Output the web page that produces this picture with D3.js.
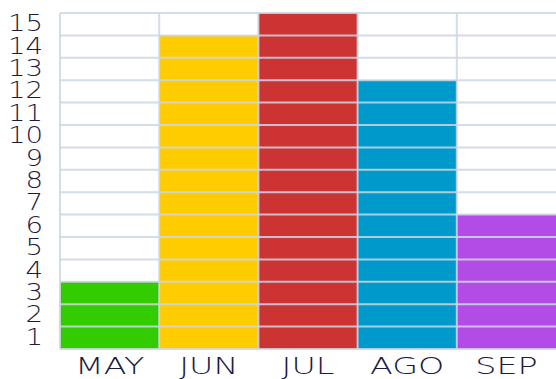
<!DOCTYPE html>
<html>
<head>
<meta charset="utf-8">
<script src="https://cdn.jsdelivr.net/npm/d3@7"></script>
<style>
  html, body { margin: 0; padding: 0; background: #fff; }
  #chart { width: 556px; height: 379px; }
</style>
</head>
<body>
<div id="chart"></div>
<script>
const months = ['MAY', 'JUN', 'JUL', 'AGO', 'SEP'];
const counts = [3, 14, 15, 12, 6];
const barColors = ['#33cc00', '#ffcc00', '#cc3333', '#0099cc', '#b34ce6'];
const yTicks = d3.range(1, 16);

const width = 556;
const height = 379;
const margin = { top: 13, right: 0, bottom: 30, left: 60 };
const chartWidth = width - margin.left - margin.right;
const chartHeight = height - margin.top - margin.bottom;

const svg = d3.select('#chart')
    .append('svg')
    .attr('width', width)
    .attr('height', height);

const g = svg.append('g')
    .attr('transform', `translate(${margin.left}, ${margin.top})`);

const x = d3.scaleBand()
    .domain(months)
    .range([0, chartWidth])
    .padding(0);

const y = d3.scaleLinear()
    .domain([0, 15])
    .range([chartHeight, 0]);

// bars
g.selectAll('rect.bar')
    .data(months)
    .enter().append('rect')
    .attr('class', 'bar')
    .attr('x', d => x(d))
    .attr('y', (d, i) => y(counts[i]))
    .attr('width', x.bandwidth())
    .attr('height', (d, i) => chartHeight - y(counts[i]))
    .style('fill', (d, i) => barColors[i]);

// grid on top of bars
const gridColor = '#cdd7e5';
g.append('g')
    .selectAll('line')
    .data(d3.range(0, 16))
    .enter().append('line')
    .attr('x1', 0)
    .attr('x2', chartWidth)
    .attr('y1', d => y(d))
    .attr('y2', d => y(d))
    .style('stroke', gridColor)
    .style('stroke-width', 2)
    .style('opacity', 0.85);

g.append('g')
    .selectAll('line')
    .data(months)
    .enter().append('line')
    .attr('x1', d => x(d))
    .attr('x2', d => x(d))
    .attr('y1', 0)
    .attr('y2', chartHeight)
    .style('stroke', gridColor)
    .style('stroke-width', 2)
    .style('opacity', 0.85);

// y labels, centered in each row (wide thin face, so stretch a bit)
g.append('g')
    .selectAll('text')
    .data(yTicks)
    .enter().append('text')
    .attr('transform', d => `translate(-17, ${y(d - 0.45)}) scale(1.2, 1)`)
    .attr('text-anchor', 'end')
    .attr('dominant-baseline', 'central')
    .style('font-family', '"DejaVu Sans", sans-serif')
    .style('font-weight', 200)
    .style('font-size', '23px')
    .style('fill', '#1b1b3d')
    .text(d => d);

// x labels
g.append('g')
    .selectAll('text')
    .data(months)
    .enter().append('text')
    .attr('transform', d => `translate(${x(d) + x.bandwidth() / 2}, ${chartHeight + 24.5}) scale(1.45, 1)`)
    .attr('text-anchor', 'middle')
    .style('font-family', '"DejaVu Sans", sans-serif')
    .style('font-weight', 200)
    .style('font-size', '23px')
    .style('fill', '#1b1b3d')
    .text(d => d);
</script>
</body>
</html>
